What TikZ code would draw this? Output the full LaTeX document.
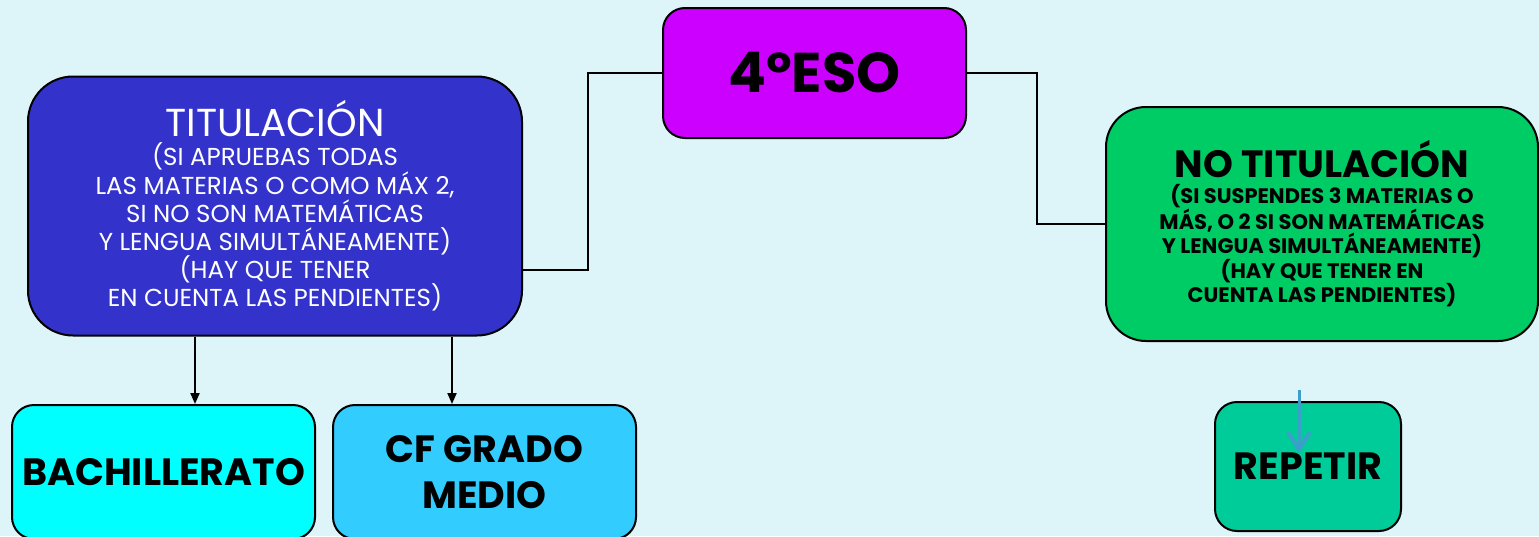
\documentclass[tikz,border=0pt]{standalone}
\usepackage{fontspec}
\setmainfont{Poppins}
\usetikzlibrary{arrows.meta}
\definecolor{bgcyan}{HTML}{DDF4F9}
\definecolor{esoviolet}{HTML}{CC00FF}
\definecolor{titblue}{HTML}{3333CC}
\definecolor{notitgreen}{HTML}{00CC66}
\definecolor{bachcyan}{HTML}{00FFFF}
\definecolor{cfblue}{HTML}{33CCFF}
\definecolor{repgreen}{HTML}{00CC99}
\definecolor{repline}{HTML}{3C9FCB}
\begin{document}
\begin{tikzpicture}[x=1pt, y=-1pt, line width=2pt,
    box/.style={draw=black, rounded corners=22pt, align=center, inner sep=0pt},
    bigtext/.style={font=\fontsize{38}{46}\selectfont\bfseries},
    arr/.style={-{Triangle[length=11pt,width=9pt]}}]
				\useasboundingbox (0,0) rectangle (1539,536);
				\fill[bgcyan] (0,0) rectangle (1539,536);

				% top box
				\node[box, fill=esoviolet, minimum width=303, minimum height=130,
				  font=\fontsize{56}{60}\selectfont\bfseries] (eso) at (814.5,73) {4ºESO};

				% left and right branches
				\node[box, fill=titblue, text=white, rounded corners=45pt, minimum width=494, minimum height=259,
				  font=\fontsize{24.5}{28.2}\selectfont] (tit) at (275,206)
				{{\fontsize{39}{40}\selectfont TITULACIÓN}\\[1pt]
				(SI APRUEBAS TODAS\\ LAS MATERIAS O COMO MÁX 2,\\ SI NO SON MATEMÁTICAS\\
				Y LENGUA SIMULTÁNEAMENTE)\\ (HAY QUE TENER\\ EN CUENTA LAS PENDIENTES)};

				\node[box, fill=notitgreen, rounded corners=40pt, minimum width=432, minimum height=234,
				  font=\fontsize{21}{24.5}\selectfont\bfseries] (notit) at (1322,224)
				{{\fontsize{38}{40}\selectfont NO TITULACIÓN}\\[1pt]
				(SI SUSPENDES 3 MATERIAS O\\ MÁS, O 2 SI SON MATEMÁTICAS\\
				Y LENGUA SIMULTÁNEAMENTE)\\ (HAY QUE TENER EN\\ CUENTA LAS PENDIENTES)};

				% bottom boxes
				\node[box, bigtext, fill=bachcyan, minimum width=303, minimum height=134] (bach) at (163.5,472)
				{BACHILLERATO};

				\node[box, bigtext, fill=cfblue, minimum width=303, minimum height=134] (cf) at (484.5,472)
				{CF GRADO\\ MEDIO};

				\node[box, bigtext, fill=repgreen, minimum width=186, minimum height=129] (rep) at (1308,466.5)
				{REPETIR};

				\draw (eso.west) -- ++(-74,0) |- ([yshift=-64pt]tit.east);
				\draw (eso.east) -- ++(70,0) |- (notit.west);

				\draw[arr] (tit.south -| 195,0) -- (bach.north -| 195,0);
				\draw[arr] (tit.south -| 452,0) -- (cf.north -| 452,0);

				\coordinate (reptop) at (1299,390);
				\coordinate (repend) at (1299,453);
				\draw[repline, line width=3pt, -{Straight Barb[length=17pt,width=22pt,line width=4pt]}] (reptop) -- (repend);

			\end{tikzpicture}
\end{document}
